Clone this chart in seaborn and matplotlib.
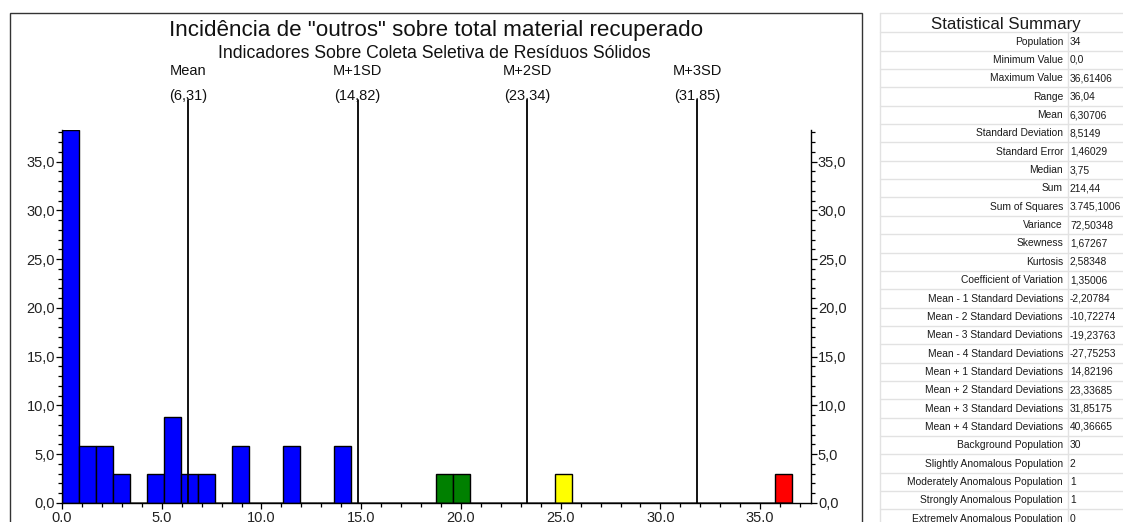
import numpy as np
import pandas as pd
import matplotlib
matplotlib.use("Agg")
import matplotlib.pyplot as plt
import matplotlib.transforms as mtransforms
from matplotlib.lines import Line2D
from matplotlib.patches import Rectangle
from matplotlib.ticker import MultipleLocator, FuncFormatter
import seaborn as sns

# ---- data -------------------------------------------------------------
population = 34
bin_width = 0.85149
bin_index = [0, 1, 2, 3, 5, 6, 7, 8, 10, 13, 16, 22, 23, 29, 42]
bin_count = [13, 2, 2, 1, 1, 3, 1, 1, 2, 2, 2, 1, 1, 1, 1]
bin_class = ["Background", "Background", "Background", "Background",
             "Background", "Background", "Background", "Background",
             "Background", "Background", "Background",
             "Slightly", "Slightly", "Moderately", "Strongly"]
class_order = ["Background", "Slightly", "Moderately", "Strongly"]
class_colors = {"Background": "#0000ff", "Slightly": "#008000",
                "Moderately": "#ffff00", "Strongly": "#ff0000"}

marker_names = ["Mean", "M+1SD", "M+2SD", "M+3SD"]
marker_values = [6.30706, 14.82196, 23.33685, 31.85175]

title = 'Incidência de "outros" sobre total material recuperado'
subtitle = "Indicadores Sobre Coleta Seletiva de Resíduos Sólidos"

summary_title = "Statistical Summary"
summary_labels = [
    "Population", "Minimum Value", "Maximum Value", "Range", "Mean",
    "Standard Deviation", "Standard Error", "Median", "Sum", "Sum of Squares",
    "Variance", "Skewness", "Kurtosis", "Coefficient of Variation",
    "Mean - 1 Standard Deviations", "Mean - 2 Standard Deviations",
    "Mean - 3 Standard Deviations", "Mean - 4 Standard Deviations",
    "Mean + 1 Standard Deviations", "Mean + 2 Standard Deviations",
    "Mean + 3 Standard Deviations", "Mean + 4 Standard Deviations",
    "Background Population", "Slightly Anomalous Population",
    "Moderately Anomalous Population", "Strongly Anomalous Population",
    "Extremely Anomalous Population"]
summary_values = [
    "34", "0,0", "36,61406", "36,04", "6,30706", "8,5149", "1,46029", "3,75",
    "214,44", "3.745,1006", "72,50348", "1,67267", "2,58348", "1,35006",
    "-2,20784", "-10,72274", "-19,23763", "-27,75253", "14,82196",
    "23,33685", "31,85175", "40,36665", "30", "2", "1", "1", "0"]

# ---- figure -----------------------------------------------------------
W, H = 1123, 522
sns.set_theme(style="white")
plt.rcParams["font.family"] = ["Liberation Sans", "DejaVu Sans"]
plt.rcParams["text.color"] = "#111111"

fig = plt.figure(figsize=(W / 100, H / 100), dpi=100)
fig.patch.set_facecolor("white")


def fx(px):
    return px / W


def fy(py):
    return 1 - py / H


ax_left, ax_right, ax_top, ax_bottom = 62, 811, 130, 503
ax = fig.add_axes([fx(ax_left), fy(ax_bottom),
                   fx(ax_right - ax_left), (ax_bottom - ax_top) / H])

df = pd.DataFrame({
    "centre": (np.array(bin_index) + 0.5) * bin_width,
    "percent": np.array(bin_count) / population * 100,
    "class": bin_class,
})
n_bins = max(bin_index) + 1

sns.histplot(data=df, x="centre", weights="percent",
             binwidth=bin_width, binrange=(0, n_bins * bin_width),
             hue="class", hue_order=class_order, palette=class_colors,
             multiple="layer", alpha=1, edgecolor="black", linewidth=1.0,
             legend=False, ax=ax)

ax.set_xlim(0, 37.55)
ax.set_ylim(0, df["percent"].max())
ax.set_xlabel("")
ax.set_ylabel("")
ax.set_facecolor("white")

ax.spines["top"].set_visible(False)
for side in ["left", "right", "bottom"]:
    ax.spines[side].set_visible(True)
    ax.spines[side].set_color("black")
    ax.spines[side].set_linewidth(1.0)

ax.xaxis.set_major_locator(MultipleLocator(5))
ax.xaxis.set_minor_locator(MultipleLocator(1))
ax.yaxis.set_major_locator(MultipleLocator(5))
ax.yaxis.set_minor_locator(MultipleLocator(1))
ax.xaxis.set_major_formatter(FuncFormatter(lambda v, _: f"{v:.1f}"))
ax.yaxis.set_major_formatter(
    FuncFormatter(lambda v, _: f"{v:.1f}".replace(".", ",")))
ax.tick_params(axis="both", which="both", direction="out", colors="black",
               labelcolor="#222222", width=0.9, labelsize=10.5)
ax.tick_params(axis="both", which="major", length=4)
ax.tick_params(axis="both", which="minor", length=2.8)
ax.tick_params(axis="y", which="both", left=True, right=True,
               labelleft=True, labelright=True, pad=1)
ax.tick_params(axis="x", which="both", bottom=True, pad=1.5)

# reference lines at the mean and mean + k standard deviations
blend = mtransforms.blended_transform_factory(ax.transData, ax.transAxes)
span = ax_bottom - ax_top
for name, val in zip(marker_names, marker_values):
    ax.add_line(Line2D([val, val], [0, (ax_bottom - 100) / span],
                       transform=blend, color="black", lw=1.3,
                       clip_on=False))
    ax.text(val, (ax_bottom - 75) / span, name,
            transform=blend, ha="center", va="baseline", fontsize=10.5)
    ax.text(val, (ax_bottom - 100) / span,
            f"({val:.2f})".replace(".", ","),
            transform=blend, ha="center", va="baseline", fontsize=10.5)

# titles
fig.text(fx(436), fy(36), title, ha="center", va="baseline", fontsize=16.1)
fig.text(fx(434), fy(58), subtitle, ha="center", va="baseline",
         fontsize=12.7)

# chart frame
fig.add_artist(Rectangle((fx(10), fy(540)), fx(852), (540 - 13) / H,
                         transform=fig.transFigure, fill=False,
                         edgecolor="#333333", lw=1.0))

# ---- summary table ----------------------------------------------------
grid = "#e2e2e2"
t_left, t_sep, t_right = 880, 1068, 1135
t_top, head_bottom, row_h = 13, 32.3, 18.35
fig.add_artist(Line2D([fx(t_left), fx(t_right)], [fy(t_top), fy(t_top)],
                      transform=fig.transFigure, color=grid, lw=1))
fig.add_artist(Line2D([fx(t_left), fx(t_left)], [fy(t_top), fy(540)],
                      transform=fig.transFigure, color=grid, lw=1))
fig.add_artist(Line2D([fx(t_sep), fx(t_sep)], [fy(head_bottom), fy(540)],
                      transform=fig.transFigure, color=grid, lw=1))
fig.text(fx(1006), fy(29), summary_title, ha="center", va="baseline",
         fontsize=12.2, color="#1a1a1a")
for i, (lab, val) in enumerate(zip(summary_labels, summary_values)):
    top = head_bottom + i * row_h
    fig.add_artist(Line2D([fx(t_left), fx(t_right)], [fy(top), fy(top)],
                          transform=fig.transFigure, color=grid, lw=1))
    fig.text(fx(1063), fy(top + 12.3), lab, ha="right", va="baseline",
             fontsize=7.4, color="#1a1a1a")
    fig.text(fx(1070), fy(top + 12.3), val, ha="left", va="baseline",
             fontsize=7.4, color="#1a1a1a")

fig.savefig("out.png", dpi=100)
